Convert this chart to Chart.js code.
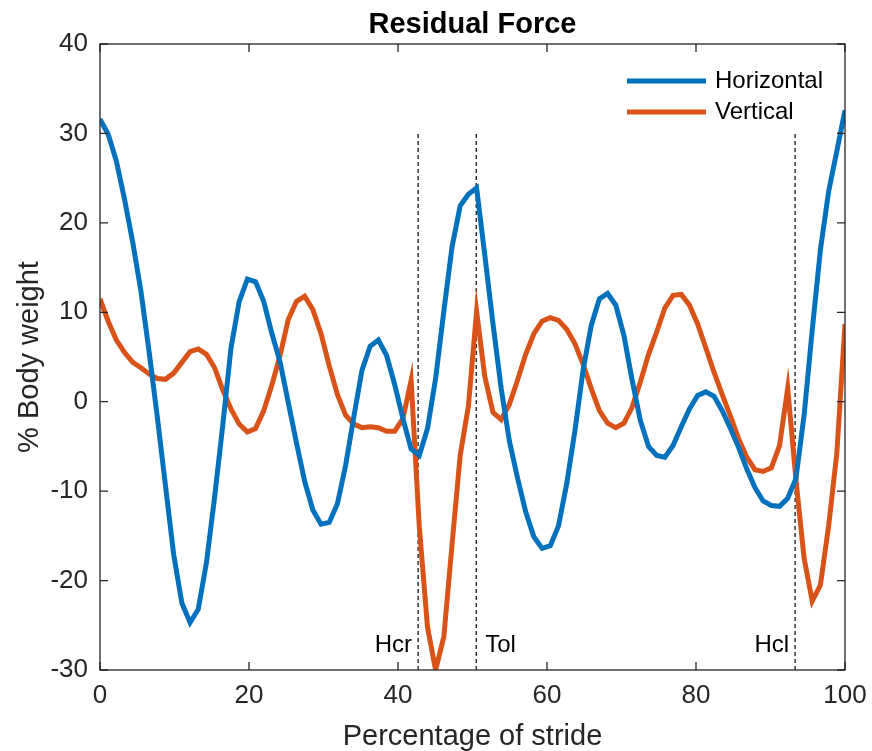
<!DOCTYPE html>
<html>
<head>
<meta charset="utf-8">
<script src="https://cdn.jsdelivr.net/npm/chart.js@4.4.1/dist/chart.umd.min.js"></script>
<style>
  html, body { margin: 0; padding: 0; background: #fff; }
</style>
</head>
<body>
<canvas id="force" width="872" height="751"></canvas>
<script>
// percentage of stride (sample positions)
const stride = [0, 1.10, 2.20, 3.30, 4.40, 5.49, 6.59, 7.69, 8.79, 9.89,
  10.99, 12.09, 13.19, 14.29, 15.38, 16.48, 17.58, 18.68, 19.78, 20.88,
  21.98, 23.08, 24.18, 25.27, 26.37, 27.47, 28.57, 29.67, 30.77, 31.87,
  32.97, 34.07, 35.16, 36.26, 37.36, 38.46, 39.56, 40.66, 41.76, 42.86,
  43.96, 45.05, 46.15, 47.25, 48.35, 49.45, 50.55, 51.65, 52.75, 53.85,
  54.95, 56.04, 57.14, 58.24, 59.34, 60.44, 61.54, 62.64, 63.74, 64.84,
  65.93, 67.03, 68.13, 69.23, 70.33, 71.43, 72.53, 73.63, 74.73, 75.82,
  76.92, 78.02, 79.12, 80.22, 81.32, 82.42, 83.52, 84.62, 85.71, 86.81,
  87.91, 89.01, 90.11, 91.21, 92.31, 93.41, 94.51, 95.60, 96.70, 97.80,
  98.90, 100];

// % body weight
const horizontal = [31.6, 29.9, 26.9, 22.6, 17.8, 12.4, 5.6, -1.7, -9.4, -17.1,
  -22.5, -24.7, -23.2, -18.0, -10.7, -2.6, 6.0, 11.2, 13.7, 13.4,
  11.2, 7.6, 4.4, -0.1, -4.6, -8.9, -12.1, -13.7, -13.5, -11.4,
  -7.1, -1.7, 3.5, 6.2, 6.9, 5.2, 1.9, -1.9, -5.3, -6.0,
  -3.0, 2.6, 10.1, 17.3, 21.9, 23.2, 23.9, 16.4, 8.7, 1.5,
  -4.4, -8.5, -12.3, -15.1, -16.4, -16.1, -13.9, -9.2, -3.3, 3.5,
  8.5, 11.5, 12.1, 10.8, 7.4, 2.4, -2.1, -5.0, -6.0, -6.2,
  -4.9, -2.8, -0.8, 0.7, 1.1, 0.6, -1.0, -3.0, -5.1, -7.5,
  -9.6, -11.1, -11.6, -11.7, -10.8, -8.6, -1.5, 8.0, 17.0, 23.5,
  28.0, 32.6];

const vertical = [11.5, 9.0, 6.9, 5.5, 4.4, 3.8, 3.1, 2.6, 2.5, 3.2,
  4.4, 5.6, 5.9, 5.3, 3.8, 1.3, -0.8, -2.5, -3.4, -3.0,
  -1.0, 1.9, 5.2, 9.2, 11.2, 11.8, 10.3, 7.6, 4.0, 0.8,
  -1.5, -2.5, -2.9, -2.8, -2.9, -3.3, -3.3, -1.9, 2.4, -14.0,
  -25.2, -30.0, -26.3, -16.0, -6.0, -0.5, 10.1, 2.8, -1.2, -2.0,
  -0.3, 2.4, 5.3, 7.6, 9.0, 9.4, 9.1, 8.1, 6.5, 4.2,
  1.5, -1.0, -2.4, -2.9, -2.4, -0.6, 2.2, 5.3, 7.8, 10.5,
  11.9, 12.0, 10.8, 8.7, 6.0, 3.3, 0.8, -1.6, -4.1, -6.2,
  -7.6, -7.8, -7.4, -4.9, 1.5, -8.7, -17.5, -22.3, -20.5, -13.9,
  -5.8, 8.7];

// gait events
const eventNames = ['Hcr', 'Tol', 'Hcl'];
const eventStride = [42.7, 50.5, 93.3];
const eventSide = ['left', 'right', 'left'];
const eventSpan = [-30, 30];

const xTicks = [0, 20, 40, 60, 80, 100];
const yTicks = [-30, -20, -10, 0, 10, 20, 30, 40];

const BLUE = '#0072BD';
const ORANGE = '#D95319';
const AXIS = '#262626';
const FONT = '"Liberation Sans", Arial, Helvetica, sans-serif';

const toPoints = (ys) => ys.map((v, i) => ({x: stride[i], y: v}));

const datasets = [
  {label: 'Horizontal', data: toPoints(horizontal), borderColor: BLUE, borderWidth: 5},
  {label: 'Vertical', data: toPoints(vertical), borderColor: ORANGE, borderWidth: 5}
];
eventStride.forEach((s, i) => {
  datasets.push({
    label: eventNames[i],
    data: eventSpan.map(v => ({x: s, y: v})),
    borderColor: '#000',
    borderWidth: 1.2,
    borderDash: [4, 3]
  });
});
datasets.forEach(d => {
  d.pointRadius = 0;
  d.tension = 0;
  d.fill = false;
  d.clip = 0;
  d.borderJoinStyle = 'miter';
});

// axes box, inward ticks, labels, legend (matlab look)
const decorations = {
  id: 'decorations',
  afterDatasetsDraw(chart) {
    const ctx = chart.ctx;
    const a = chart.chartArea;
    const x = chart.scales.x, y = chart.scales.y;
    ctx.save();

    ctx.strokeStyle = AXIS;
    ctx.lineWidth = 1.3;
    ctx.strokeRect(a.left, a.top, a.right - a.left, a.bottom - a.top);
    ctx.beginPath();
    xTicks.forEach(v => {
      const px = x.getPixelForValue(v);
      ctx.moveTo(px, a.bottom); ctx.lineTo(px, a.bottom - 8);
      ctx.moveTo(px, a.top); ctx.lineTo(px, a.top + 8);
    });
    yTicks.forEach(v => {
      const py = y.getPixelForValue(v);
      ctx.moveTo(a.left, py); ctx.lineTo(a.left + 8, py);
      ctx.moveTo(a.right, py); ctx.lineTo(a.right - 8, py);
    });
    ctx.stroke();

    // event labels
    ctx.fillStyle = '#000';
    ctx.font = '24px ' + FONT;
    ctx.textBaseline = 'middle';
    const ly = y.getPixelForValue(-27.2);
    eventNames.forEach((n, i) => {
      const px = x.getPixelForValue(eventStride[i]);
      if (eventSide[i] === 'right') {
        ctx.textAlign = 'left';
        ctx.fillText(n, px + 9, ly);
      } else {
        ctx.textAlign = 'right';
        ctx.fillText(n, px - 6, ly);
      }
    });

    // legend
    const items = [['Horizontal', BLUE], ['Vertical', ORANGE]];
    items.forEach((it, i) => {
      const ry = a.top + 37 + i * 31;
      ctx.strokeStyle = it[1];
      ctx.lineWidth = 5;
      ctx.beginPath();
      ctx.moveTo(a.right - 218, ry);
      ctx.lineTo(a.right - 139, ry);
      ctx.stroke();
      ctx.fillStyle = '#000';
      ctx.textAlign = 'left';
      ctx.fillText(it[0], a.right - 130, ry);
    });

    // title
    const cx = (a.left + a.right) / 2;
    ctx.fillStyle = '#000';
    ctx.textAlign = 'center';
    ctx.font = 'bold 29px ' + FONT;
    ctx.fillText('Residual Force', cx, a.top - 19);

    // axis titles
    ctx.fillStyle = AXIS;
    ctx.font = '29px ' + FONT;
    ctx.fillText('Percentage of stride', cx, a.bottom + 67);
    ctx.translate(30, (a.top + a.bottom) / 2);
    ctx.rotate(-Math.PI / 2);
    ctx.fillText('% Body weight', 0, 0);

    ctx.restore();
  }
};

const chart = new Chart(document.getElementById('force'), {
  type: 'line',
  data: {datasets: datasets},
  options: {
    responsive: false,
    animation: false,
    layout: {padding: {top: 44, right: 27, left: 0, bottom: 0}},
    plugins: {
      legend: {display: false},
      title: {display: false},
      tooltip: {enabled: false}
    },
    scales: {
      x: {
        type: 'linear',
        min: 0, max: 100,
        grid: {display: false, drawTicks: false},
        border: {display: false},
        afterBuildTicks: s => { s.ticks = xTicks.map(v => ({value: v})); },
        afterFit: s => { s.height = 81; s.paddingRight = 0; s.paddingLeft = 0; },
        ticks: {color: AXIS, padding: 10, font: {size: 26, family: FONT}, maxRotation: 0}
      },
      y: {
        type: 'linear',
        min: -30, max: 40,
        grid: {display: false, drawTicks: false},
        border: {display: false},
        afterBuildTicks: s => { s.ticks = yTicks.map(v => ({value: v})); },
        afterFit: s => { s.width = 100; s.paddingTop = 0; s.paddingBottom = 0; },
        ticks: {color: AXIS, padding: 12, font: {size: 26, family: FONT}}
      }
    }
  },
  plugins: [decorations]
});
</script>
</body>
</html>
